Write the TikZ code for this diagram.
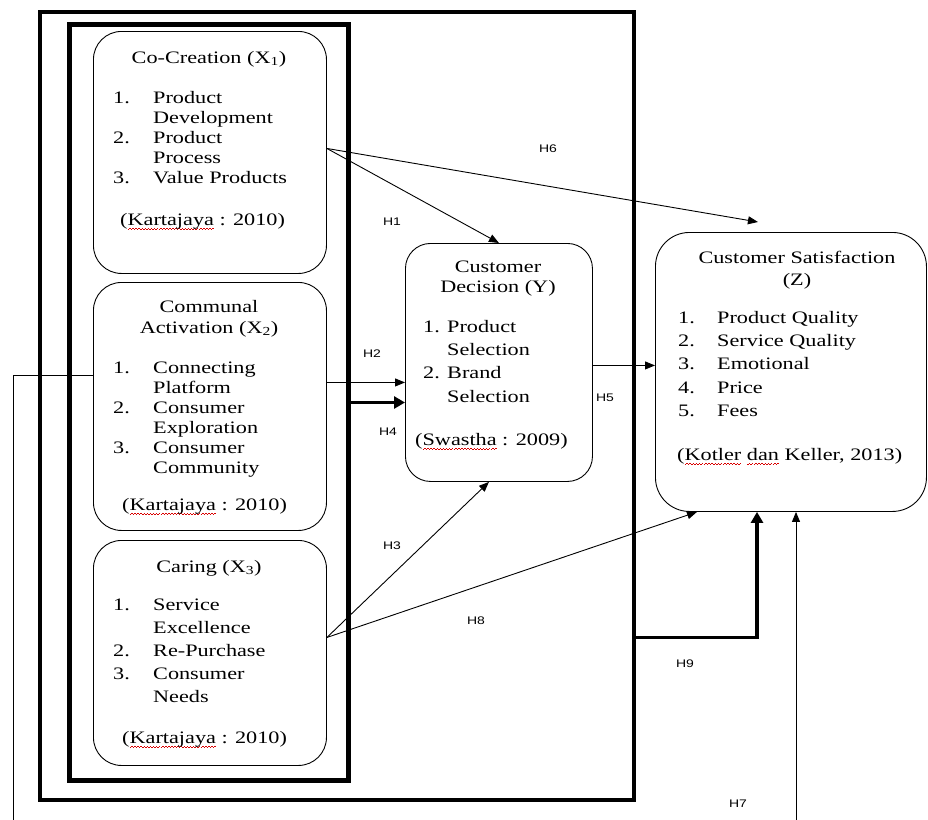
\documentclass[tikz,border=0pt]{standalone}
\usepackage{fontspec}
\setmainfont{Liberation Serif}
\newfontfamily\boxfont[FakeStretch=1.27]{Liberation Serif}
\newfontfamily\hfont[FakeStretch=1.27]{Liberation Sans}
\usetikzlibrary{arrows.meta}
\newsavebox\rwbox
\newcommand\redwave[1]{\sbox\rwbox{#1}\rlap{\color{red!85!black}\lower3.5pt\hbox to \wd\rwbox{\xleaders\hbox to 3pt{\vrule width 1.5pt height -0.4pt depth 1.2pt\vrule width 1.5pt height 0.8pt depth 0pt}\hfill}}\usebox\rwbox}

\begin{document}
\begin{tikzpicture}[x=1pt,y=-1pt,
  frame/.style={draw,inner sep=0pt,anchor=north west},
  panel/.style={draw,line width=0.9pt,rounded corners=28pt,inner sep=0pt,anchor=north west},
  txt/.style={inner sep=0pt,anchor=base west,font=\boxfont\fontsize{17.5}{20}\selectfont},
  ctxt/.style={txt,anchor=base},
  hyp/.style={inner sep=0pt,anchor=base,font=\hfont\fontsize{11}{13}\selectfont},
  link/.style={line width=0.9pt,-{Triangle[length=10pt,width=8pt]}},
  boldlink/.style={line width=3.6pt,-{Triangle[length=11pt,width=12pt]}},
]
\useasboundingbox (0,0) rectangle (928,819);
\fill[white] (0,0) rectangle (928,819);

% frames
\node[frame,line width=4pt,minimum width=594pt,minimum height=788pt] (outer) at (38,10) {};
\node[frame,line width=5pt,minimum width=279pt,minimum height=756pt] (inner) at (67,22) {};

% panels
\node[panel,minimum width=233pt,minimum height=242pt] (cc) at (93,31) {};
\node[panel,minimum width=233pt,minimum height=248pt] (ca) at (93,282) {};
\node[panel,minimum width=233pt,minimum height=225pt] (car) at (93,540) {};
\node[panel,rounded corners=25pt,minimum width=187pt,minimum height=238pt] (dec) at (405,243) {};
\node[panel,rounded corners=34pt,minimum width=271pt,minimum height=279pt] (sat) at (655,232) {};

% Co-Creation text
\node[ctxt] (ccT) at (209,63) {Co-Creation (X\textsubscript{1})};
\node[txt] (ccL) at (113,103) {\begin{tabular}[t]{@{}p{40pt}@{}l@{}}
1. & Product\\ & Development\\ 2. & Product\\ & Process\\ 3. & Value Products\end{tabular}};
\node[txt] (ccS) at (120,225) {(\redwave{Kartajaya} : 2010)};

% Communal Activation text
\node[ctxt] (caT) at (209,312) {\begin{tabular}[t]{@{}c@{}}Communal\\[1pt]Activation (X\textsubscript{2})\end{tabular}};
\node[txt] (caL) at (113,373) {\begin{tabular}[t]{@{}p{40pt}@{}l@{}}
1. & Connecting\\ & Platform\\ 2. & Consumer\\ & Exploration\\ 3. & Consumer\\ & Community\end{tabular}};
\node[txt] (caS) at (122,510) {(\redwave{Kartajaya} : 2010)};

% Caring text
\node[ctxt] (carT) at (209,572) {Caring (X\textsubscript{3})};
\node[txt] (carL) at (113,610) {\renewcommand\arraystretch{1.16}\begin{tabular}[t]{@{}p{40pt}@{}l@{}}
1. & Service\\ & Excellence\\ 2. & Re-Purchase\\ 3. & Consumer\\ & Needs\end{tabular}};
\node[txt] (carS) at (122,743) {(\redwave{Kartajaya} : 2010)};

% Customer Decision text
\node[ctxt] (decT) at (498,272) {\begin{tabular}[t]{@{}c@{}}Customer\\Decision (Y)\end{tabular}};
\node[txt] (decL) at (423,332) {\renewcommand\arraystretch{1.17}\begin{tabular}[t]{@{}p{24pt}@{}l@{}}
1. & Product\\ & Selection\\ 2. & Brand\\ & Selection\end{tabular}};
\node[txt] (decS) at (415,445) {(\redwave{Swastha} : 2009)};

% Customer Satisfaction text
\node[ctxt] (satT) at (797,263) {\begin{tabular}[t]{@{}c@{}}Customer Satisfaction\\[2pt](Z)\end{tabular}};
\node[txt] (satL) at (678,323) {\renewcommand\arraystretch{1.17}\begin{tabular}[t]{@{}p{39pt}@{}l@{}}
1. & Product Quality\\ 2. & Service Quality\\ 3. & Emotional\\ 4. & Price\\ 5. & Fees\end{tabular}};
\node[txt] (satS) at (677,460) {(\redwave{Kotler} \redwave{dan} Keller, 2013)};

% connector anchor points
\coordinate (s1) at ([yshift=4pt]cc.east);
\coordinate (s2) at ([yshift=24pt]ca.east);
\coordinate (s3) at ([yshift=15.5pt]car.east);
\coordinate (s5) at ([yshift=-3pt]dec.east);
\coordinate (s7) at ([yshift=31pt]ca.west);
\coordinate (low) at (13,830);

% connectors
\draw[link] (s1) -- (dec.north);
\draw[link] (s1) -- ([xshift=-33pt,yshift=10pt]sat.north);
\draw[link] (s2) -- (s2 -| dec.west);
\draw[boldlink] (inner.east) -- (inner.east -| dec.west);
\draw[link] (s5) -- (s5 -| sat.west);
\draw[link] (s3) -- ([xshift=-10pt]dec.south);
\draw[link] (s3) -- ([xshift=42pt]sat.south west);
\draw[boldlink] (outer.east |- s3) -| ([xshift=102pt]sat.south west);
\draw[link] (s7) -| (low) -| ([xshift=141pt]sat.south west);

% hypothesis labels
\node[hyp] (h1) at (392,225) {H1};
\node[hyp] (h2) at (372,357) {H2};
\node[hyp] (h3) at (392,549) {H3};
\node[hyp] (h4) at (388,435) {H4};
\node[hyp] (h5) at (605,401) {H5};
\node[hyp] (h6) at (548,152) {H6};
\node[hyp] (h7) at (738,807) {H7};
\node[hyp] (h8) at (476,624) {H8};
\node[hyp] (h9) at (685,667) {H9};
\end{tikzpicture}
\end{document}
